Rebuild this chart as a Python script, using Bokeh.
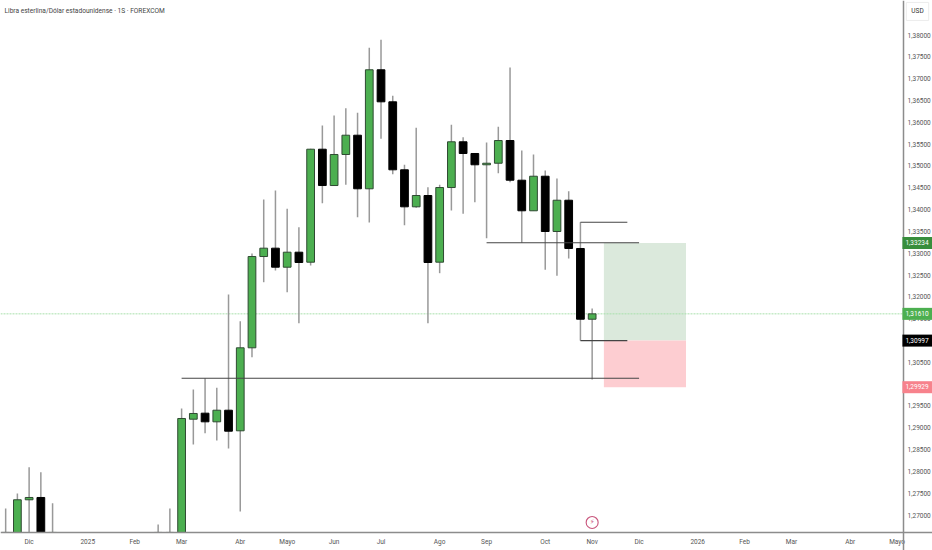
from bokeh.plotting import figure
from bokeh.embed import file_html
from bokeh.resources import INLINE
from bokeh.models import Label, Range1d, FixedTicker
from bokeh.core.properties import value

weeks = [0,1,2,3,4,13,14,15,16,17,18,19,20,21,22,23,24,25,26,27,28,29,30,31,32,33,34,35,36,37,38,39,40,41,42,43,44,45,46,47,48,49,50]
opens = [1.2660,1.2660,1.27349,1.27402,1.2660,1.2660,1.2660,1.2660,1.29196,1.29334,1.29136,1.29402,1.28930,1.30832,1.32924,1.33115,1.32679,1.33023,1.32794,1.35383,1.34551,1.35262,1.35704,1.34476,1.37203,1.36469,1.34911,1.34063,1.34322,1.32794,1.34505,1.35553,1.35285,1.35026,1.35062,1.35582,1.34673,1.33972,1.34764,1.33497,1.34214,1.33108,1.31487]
highs = [1.27150,1.27493,1.28096,1.27982,1.27271,1.26783,1.27150,1.29441,1.29877,1.30136,1.29916,1.32054,1.31442,1.32993,1.34230,1.34437,1.34017,1.33596,1.35392,1.35926,1.36155,1.36323,1.36217,1.37707,1.37890,1.36607,1.35026,1.35873,1.34512,1.34567,1.35942,1.35658,1.35285,1.35537,1.35896,1.37255,1.35353,1.35262,1.34895,1.34712,1.34421,1.33710,1.31733]
lows = [1.2660,1.2660,1.2660,1.2660,1.2660,1.2660,1.2660,1.2660,1.28616,1.28875,1.28708,1.28525,1.27081,1.30617,1.32335,1.32603,1.32106,1.31396,1.32718,1.34146,1.34544,1.34567,1.33825,1.33703,1.35621,1.34810,1.33642,1.34040,1.31396,1.32542,1.33978,1.33903,1.34169,1.33344,1.34833,1.34627,1.33238,1.33972,1.32620,1.32482,1.32878,1.30997,1.30106]
closes = [1.2660,1.27349,1.27402,1.2660,1.2660,1.2660,1.2660,1.29212,1.29327,1.29136,1.29402,1.28921,1.30832,1.32924,1.33115,1.32679,1.33023,1.32787,1.35383,1.34551,1.35262,1.35704,1.34476,1.37203,1.36469,1.34911,1.34063,1.34322,1.32787,1.34505,1.35553,1.35285,1.35026,1.35062,1.35582,1.34673,1.33972,1.34764,1.33497,1.34214,1.33108,1.31487,1.31610]

x_tick_weeks = [2,7,11,15,20,24,28,32,37,41,46,50,54,59,63,67,72,76]
x_tick_labels = ["Dic","2025","Feb","Mar","Abr","Mayo","Jun","Jul","Ago","Sep","Oct","Nov","Dic","2026","Feb","Mar","Abr","Mayo"]
y_ticks = [1.27,1.275,1.28,1.285,1.29,1.295,1.30,1.305,1.31,1.315,1.32,1.325,1.33,1.335,1.34,1.345,1.35,1.355,1.36,1.365,1.37,1.375,1.38]
y_tick_labels = ["1,27000","1,27500","1,28000","1,28500","1,29000","1,29500","1,30000","1,30500","1,31000","1,31500","1,32000","1,32500","1,33000","1,33500","1,34000","1,34500","1,35000","1,35500","1,36000","1,36500","1,37000","1,37500","1,38000"]

line_x0 = [49,41,49,15]
line_x1 = [53,54,53,54]
line_y = [1.33710,1.33238,1.30997,1.30136]

target_box = (51,58,1.33234,1.30997)
stop_box = (51,58,1.30997,1.29929)
last_price = 1.31610

price_tags = [1.33234,1.31610,1.30997,1.29929]
price_tag_text = ["1,33234","1,31610","1,30997","1,29929"]
price_tag_fill = ["#388e3c","#4caf50","#000000","#f7828c"]

title_text = "Libra esterlina/Dólar estadounidense · 1S · FOREXCOM"
currency = "USD"
event_week = 50
event_price = 1.26829

X_LEFT, X_AXIS, X_RIGHT = -0.44, 76.55, 79.016
Y_BOTTOM, Y_AXIS, Y_TOP = 1.26187, 1.26600, 1.38791

FONT = "Roboto"
TEXT = "#555555"

p = figure(width=932, height=550,
           output_backend="svg", toolbar_location=None,
           x_range=Range1d(X_LEFT, X_RIGHT), y_range=Range1d(Y_BOTTOM, Y_TOP),
           y_axis_location="right", min_border=0,
           outline_line_color=None, background_fill_color="#ffffff")
p.grid.visible = False

for ax in (p.xaxis[0], p.yaxis[0]):
    ax.major_tick_line_color = None
    ax.minor_tick_line_color = None
    ax.major_tick_in = 0
    ax.major_tick_out = 0
    ax.minor_tick_in = 0
    ax.minor_tick_out = 0
    ax.axis_line_color = "#8c8c8c"
    ax.axis_line_width = 1.5
    ax.major_label_text_color = TEXT
    ax.major_label_text_font = FONT
    ax.major_label_text_font_size = "6.5px"
p.xaxis[0].major_label_standoff = 6
p.yaxis[0].major_label_standoff = 4
p.xaxis[0].ticker = FixedTicker(ticks=x_tick_weeks)
p.xaxis[0].major_label_overrides = dict(zip(x_tick_weeks, x_tick_labels))
p.xaxis[0].fixed_location = Y_AXIS
p.yaxis[0].ticker = FixedTicker(ticks=y_ticks)
p.yaxis[0].major_label_overrides = dict(zip(y_ticks, y_tick_labels))
p.yaxis[0].fixed_location = X_AXIS

# position boxes
p.quad(left=[target_box[0]], right=[target_box[1]], top=[target_box[2]], bottom=[target_box[3]],
       fill_color="#dbe9dc", line_color=None)
p.quad(left=[stop_box[0]], right=[stop_box[1]], top=[stop_box[2]], bottom=[stop_box[3]],
       fill_color="#fdcdd1", line_color=None)

# last price line
p.segment([X_LEFT], [last_price], [X_AXIS], [last_price], line_color="#a8e0ab", line_width=1, line_dash="2 1")

# candles
p.segment(weeks, highs, weeks, lows, line_color="#999999", line_width=1.5)
up = [c >= o for o, c in zip(opens, closes)]
tops = [max(o, c) for o, c in zip(opens, closes)]
bots = [min(o, c) for o, c in zip(opens, closes)]
p.vbar(x=weeks, top=tops, bottom=bots, width=0.66,
       fill_color=["#4caf50" if u else "#000000" for u in up],
       line_color=["#2f4a32" if u else "#000000" for u in up], line_width=1)

# drawn levels
p.segment(line_x0, line_y, line_x1, line_y, line_color="#444444", line_width=1.1)

# event marker
p.scatter([event_week], [event_price], size=12, fill_color="#ffffff", line_color="#c8557c", line_width=1.1)
p.text([event_week], [event_price], text=["⚡"], text_align="center", text_baseline="middle",
       text_color="#c8557c", text_font=value("DejaVu Sans"), text_font_size="7px")

# right-hand price tags
for price, txt, fill in zip(price_tags, price_tag_text, price_tag_fill):
    p.add_layout(Label(x=917, x_units="screen", y=price, y_units="data", text=txt,
                       text_align="center", text_baseline="middle",
                       text_color="#ffffff", text_font=FONT, text_font_size="6.5px",
                       background_fill_color=fill, padding=(3, 4, 3, 4)))

# title + currency
p.add_layout(Label(x=4, x_units="screen", y=1.38560, y_units="data", text=title_text,
                   text_align="left", text_baseline="middle", text_color="#444444",
                   text_font=FONT, text_font_size="6.6px"))
p.add_layout(Label(x=917, x_units="screen", y=1.38540, y_units="data", text=currency,
                   text_align="center", text_baseline="middle", text_color="#333333",
                   text_font=FONT, text_font_size="6.5px",
                   background_fill_color="#ffffff", border_line_color="#ececec", padding=5))

open("out.html", "w").write(file_html(p, INLINE))
